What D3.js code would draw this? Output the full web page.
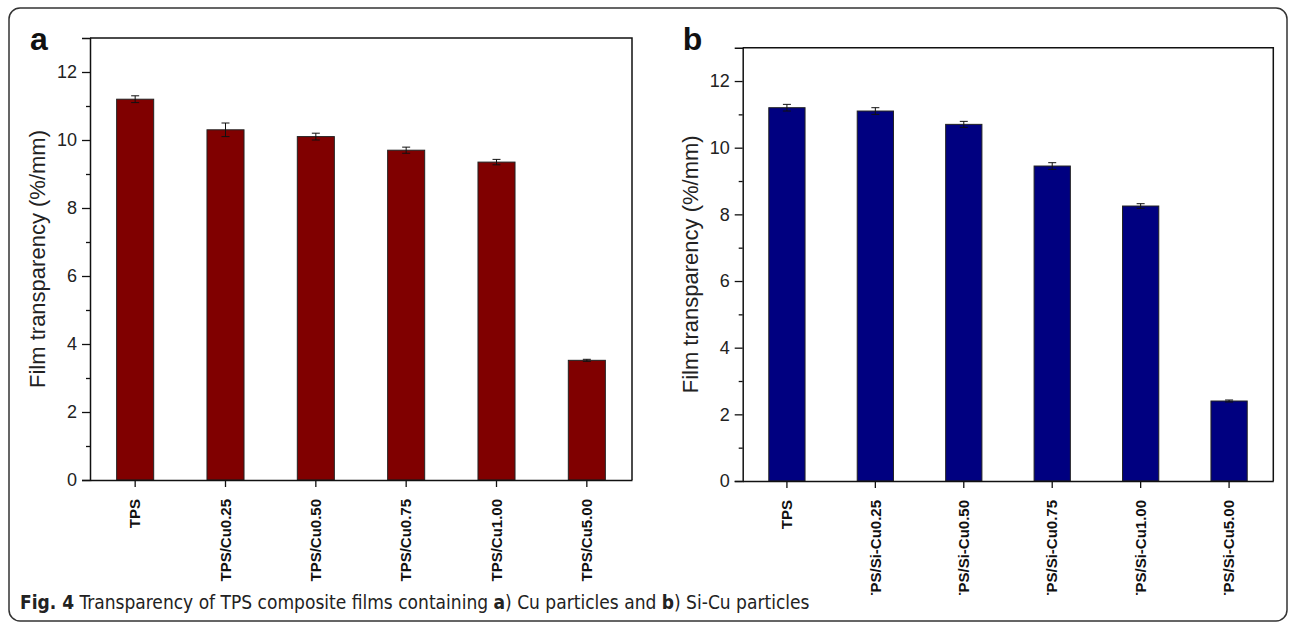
<!DOCTYPE html>
<html>
<head>
<meta charset="utf-8">
<script src="https://cdn.jsdelivr.net/npm/d3@7"></script>
<style>
  body { margin: 0; background: #fff; }
  svg { display: block; }
</style>
</head>
<body>
<div id="chart"></div>
<script>
// data
var cuLabels = ["TPS", "TPS/Cu0.25", "TPS/Cu0.50", "TPS/Cu0.75", "TPS/Cu1.00", "TPS/Cu5.00"]
var cuValues = [11.2, 10.3, 10.1, 9.7, 9.35, 3.52]
var cuErrors = [0.1, 0.2, 0.1, 0.09, 0.08, 0.03]

var siLabels = ["TPS", "TPS/Si-Cu0.25", "TPS/Si-Cu0.50", "TPS/Si-Cu0.75", "TPS/Si-Cu1.00", "TPS/Si-Cu5.00"]
var siValues = [11.2, 11.1, 10.7, 9.45, 8.25, 2.4]
var siErrors = [0.1, 0.1, 0.09, 0.1, 0.07, 0.03]

var yTicks = [0, 2, 4, 6, 8, 10, 12]
var yMinor = [1, 3, 5, 7, 9, 11]

var svgSize = { width: 1290, height: 624 }

var svg = d3.select("#chart").append("svg")
    .attr("width", svgSize.width)
    .attr("height", svgSize.height)

// outer rounded border
svg.append("rect")
    .attr("x", 9).attr("y", 8)
    .attr("width", 1278).attr("height", 613)
    .attr("rx", 11)
    .attr("fill", "none")
    .attr("stroke", "#333")
    .attr("stroke-width", 1.5)

var font = "'Liberation Sans', Arial, sans-serif"

function drawPanel(opts) {
    var g = svg.append("g")
    if (opts.clip) {
        svg.append("clipPath").attr("id", opts.id + "-clip")
            .append("rect").attr("x", 0).attr("y", 0).attr("width", svgSize.width).attr("height", opts.clip)
        g.attr("clip-path", "url(#" + opts.id + "-clip)")
    }

    var xScale = d3.scaleBand()
        .domain(opts.labels)
        .range([opts.left, opts.right])
        .paddingInner(0.59)
        .paddingOuter(0.295)

    var yScale = d3.scaleLinear()
        .domain([0, 13])
        .range([opts.bottom, opts.top])

    // bars
    g.selectAll("rect.bar").data(opts.values).enter().append("rect")
        .attr("class", "bar")
        .attr("x", (d, i) => xScale(opts.labels[i]))
        .attr("y", d => yScale(d))
        .attr("width", xScale.bandwidth())
        .attr("height", d => yScale(0) - yScale(d))
        .attr("fill", opts.color)
        .attr("stroke", "#222")
        .attr("stroke-width", 1)

    // error bars
    var eb = g.append("g").attr("stroke", "#111").attr("stroke-width", 1)
    opts.values.forEach((v, i) => {
        var cx = xScale(opts.labels[i]) + xScale.bandwidth() / 2
        var hi = yScale(v + opts.errors[i]), lo = yScale(v - opts.errors[i])
        eb.append("line").attr("x1", cx).attr("x2", cx).attr("y1", hi).attr("y2", lo)
        eb.append("line").attr("x1", cx - 4).attr("x2", cx + 4).attr("y1", hi).attr("y2", hi)
        eb.append("line").attr("x1", cx - 4).attr("x2", cx + 4).attr("y1", lo).attr("y2", lo)
    })

    // frame top/right
    g.append("path")
        .attr("d", `M${opts.left},${opts.top}H${opts.right}V${opts.bottom}`)
        .attr("fill", "none").attr("stroke", "#111").attr("stroke-width", 1.5)

    // y axis
    var yAxis = g.append("g").attr("transform", `translate(${opts.left},0)`)
        .call(d3.axisLeft(yScale).tickValues(yTicks).tickSize(8).tickPadding(5))
    yAxis.selectAll("text").style("font-family", font).style("font-size", "18px").attr("fill", "#222")
    yAxis.select(".domain").attr("stroke", "#111").attr("stroke-width", 1.5)
    yAxis.selectAll(".tick line").attr("stroke", "#111").attr("stroke-width", 1.3)
    g.append("g").attr("transform", `translate(${opts.left},0)`)
        .call(d3.axisLeft(yScale).tickValues(yMinor).tickSize(4).tickFormat(""))
        .call(s => s.select(".domain").remove())
        .selectAll(".tick line").attr("stroke", "#111").attr("stroke-width", 1.3)

    // x axis
    var xAxis = g.append("g").attr("transform", `translate(0,${opts.bottom})`)
        .call(d3.axisBottom(xScale).tickSize(7).tickSizeOuter(0))
    xAxis.select(".domain").attr("stroke", "#111").attr("stroke-width", 1.5)
    xAxis.selectAll(".tick line").attr("stroke", "#111").attr("stroke-width", 1.3)
    xAxis.selectAll("text")
        .attr("transform", "rotate(-90)")
        .attr("x", -19).attr("y", 0).attr("dy", "0.35em")
        .style("text-anchor", "end")
        .style("font-family", font).style("font-size", "15px").style("font-weight", "bold")
        .attr("fill", "#111")

    // y title
    g.append("text")
        .attr("transform", `translate(${opts.left - 45},${(opts.top + opts.bottom) / 2}) rotate(-90)`)
        .attr("text-anchor", "middle")
        .style("font-family", font).style("font-size", "22px")
        .attr("fill", "#222")
        .text("Film transparency (%/mm)")

    // panel letter
    svg.append("text")
        .attr("x", opts.left - 60).attr("y", 50)
        .style("font-family", font).style("font-size", "32px").style("font-weight", "bold")
        .attr("fill", "#111")
        .text(opts.letter)
}

drawPanel({ id: "a", letter: "a", labels: cuLabels, values: cuValues, errors: cuErrors,
    color: "#800000", left: 90, right: 632, top: 38, bottom: 480 })
drawPanel({ id: "b", letter: "b", labels: siLabels, values: siValues, errors: siErrors,
    color: "#000080", left: 742.7, right: 1273.3, top: 47.7, bottom: 481, clip: 595 })

// caption
var cap = svg.append("text")
    .attr("x", 20).attr("y", 609)
    .style("font-family", "'Liberation Sans Narrow', 'DejaVu Sans Condensed', sans-serif")
    .style("font-size", "19px")
    .attr("fill", "#222")
cap.append("tspan").style("font-weight", "bold").text("Fig. 4")
cap.append("tspan").text(" Transparency of TPS composite films containing ")
cap.append("tspan").style("font-weight", "bold").text("a")
cap.append("tspan").text(") Cu particles and ")
cap.append("tspan").style("font-weight", "bold").text("b")
cap.append("tspan").text(") Si-Cu particles")
</script>
</body>
</html>
